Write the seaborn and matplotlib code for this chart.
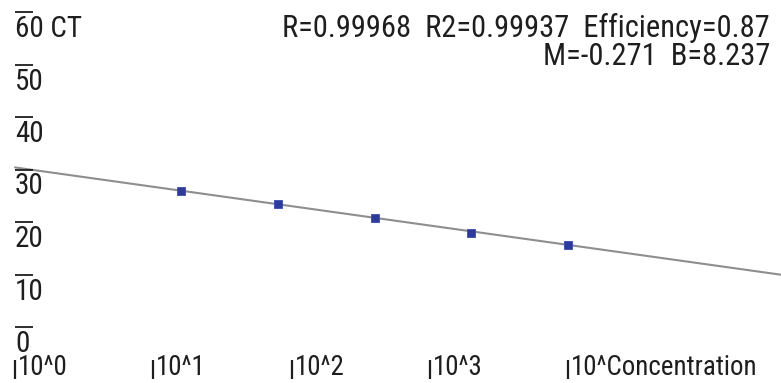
import numpy as np
import pandas as pd
import seaborn as sns
import matplotlib
matplotlib.use("Agg")
import matplotlib.pyplot as plt
import matplotlib.transforms as mtransforms
from matplotlib import font_manager

# Standard-curve samples: log10 of concentration and measured threshold cycle
log_conc = [1.2, 1.9, 2.6, 3.3, 4.0]
ct_values = [26.0, 23.4, 20.7, 18.0, 15.6]

# Fit parameters reported on the chart (log10 conc = M * CT + B)
fit_M = -0.271
fit_B = 8.237
fit_R = 0.99968
fit_R2 = 0.99937
efficiency = 0.87

y_ticks = [0, 10, 20, 30, 40, 50, 60]
x_ticks = [0, 1, 2, 3, 4]
x_tick_labels = ["10^0", "10^1", "10^2", "10^3", "10^Concentration"]

W, H = 781, 383
sns.set_theme(style="white")

# prefer a narrow face for the tall, condensed instrument-style lettering
names = {(f.name, str(f.stretch)) for f in font_manager.fontManager.ttflist}
fam_names = {n for n, _ in names}
font_kw = {"family": ["Liberation Sans", "DejaVu Sans"]}
for cand in ["Liberation Sans Narrow", "Roboto Condensed", "Noto Sans Condensed",
             "Open Sans Condensed", "DejaVu Sans Condensed"]:
    if cand in fam_names:
        font_kw = {"family": [cand, "DejaVu Sans"]}
        break
else:
    if ("DejaVu Sans", "condensed") in names or ("DejaVu Sans", "semi-condensed") in names:
        font_kw = {"family": ["DejaVu Sans"], "stretch": "condensed"}
plt.rcParams["font.family"] = font_kw["family"]
if "stretch" in font_kw:
    plt.rcParams["font.stretch"] = font_kw["stretch"]

fig = plt.figure(figsize=(W / 100, H / 100), dpi=100)
ax = fig.add_axes([0, 0, 1, 1])
ax.set_axis_off()
renderer = fig.canvas.get_renderer()

def size_for_width(s, width_px, ref=20):
    t = fig.text(0, 0, s, fontsize=ref)
    w = t.get_window_extent(renderer).width
    t.remove()
    return ref * width_px / w

stat_size = size_for_width("R=0.99968  R2=0.99937  Efficiency=0.87", 488)
xlab_size = size_for_width("10^Concentration", 186)
ylab_size = size_for_width("60 CT", 67)

# axis scaling: 138.3 px per decade starting at px 15, 5.25 px per CT unit with 0 at px 327
x0_px, x_scale = 15, 138.3
y0_px, y_scale = 327, 5.25
ax.set_xlim(-x0_px / x_scale, (W - x0_px) / x_scale)
ax.set_ylim(-(H - y0_px) / y_scale, y0_px / y_scale)

text_color = "#1e1e1e"

# regression line CT = (log conc - B) / M from 10^0 to the right edge
xs = np.linspace(0, ax.get_xlim()[1], 200)
line_df = pd.DataFrame({"logc": xs, "ct": (xs - fit_B) / fit_M})
sns.lineplot(data=line_df, x="logc", y="ct", ax=ax, color="#8e8e8e", lw=1.5)

pts = pd.DataFrame({"logc": log_conc, "ct": ct_values})
sns.scatterplot(data=pts, x="logc", y="ct", ax=ax, marker="s", s=40,
                color="#2c3a9e", edgecolor="#3a4ab8", linewidth=0.6, zorder=5)
ax.set_xlabel("")
ax.set_ylabel("")

# y ticks: short bar at the value with the number just underneath
ytrans = mtransforms.blended_transform_factory(fig.transFigure, ax.transData)
for v in y_ticks:
    ax.plot([15 / W, 33 / W], [v, v], transform=ytrans, color=text_color, lw=1.3,
            solid_capstyle="butt")
    off = mtransforms.offset_copy(ytrans, fig=fig, x=0, y=-25, units="dots")
    lab = f"{v} CT" if v == y_ticks[-1] else f"{v}"
    ax.text(15 / W, v, lab, transform=off, ha="left", va="baseline",
            fontsize=ylab_size, color=text_color)

# x ticks: small vertical bar followed by the label
xtrans = mtransforms.blended_transform_factory(ax.transData, fig.transFigure)
for xv, lab in zip(x_ticks, x_tick_labels):
    ax.plot([xv, xv], [1 - 360 / H, 1 - 379 / H], transform=xtrans,
            color=text_color, lw=1.6, solid_capstyle="butt")
    off = mtransforms.offset_copy(xtrans, fig=fig, x=3, y=0, units="dots")
    ax.text(xv, 1 - 375 / H, lab, transform=off, ha="left", va="baseline",
            fontsize=xlab_size, color=text_color)

# fit statistics, top right
fig.text(770 / W, 1 - 37 / H,
         f"R={fit_R:.5f}  R2={fit_R2:.5f}  Efficiency={efficiency:.2f}",
         ha="right", va="baseline", fontsize=stat_size, color=text_color)
fig.text(770 / W, 1 - 65 / H, f"M={fit_M:.3f}  B={fit_B:.3f}",
         ha="right", va="baseline", fontsize=stat_size, color=text_color)

fig.savefig("out.png", dpi=100, facecolor="white")
